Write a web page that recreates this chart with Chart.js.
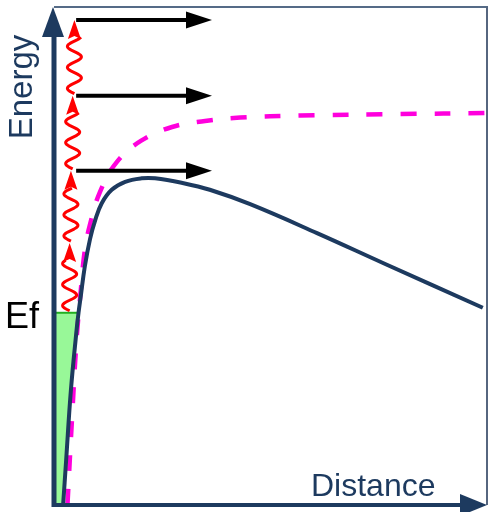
<!DOCTYPE html>
<html>
<head>
<meta charset="utf-8">
<title>Energy vs Distance</title>
<script src="https://cdn.jsdelivr.net/npm/chart.js@4.4.1/dist/chart.umd.min.js"></script>
<style>
  html, body { margin: 0; padding: 0; background: #fff; }
  canvas { display: block; }
</style>
</head>
<body>
<canvas id="myChart" width="490" height="512"></canvas>
<script>
// distance (nm) and energy (eV)
const barrierX = [0.21, 0.28, 0.39, 0.52, 0.565, 0.615, 0.71, 0.83, 0.95, 1.10, 1.33, 1.64, 2.02, 2.33, 2.94, 3.59, 4.52, 6.06, 7.58, 9.88];
const barrierY = [0.00, 0.90, 2.31, 3.51, 3.86, 4.18, 4.79, 5.34, 5.72, 6.06, 6.33, 6.49, 6.56, 6.56, 6.47, 6.33, 6.04, 5.46, 4.86, 3.96];

// image-force lowered barrier (dashed)
const imageX = [0.31, 0.41, 0.52, 0.62, 0.71, 0.82, 1.06, 1.45, 2.00, 2.72, 3.48, 4.29, 5.67, 7.97, 9.98];
const imageY = [0.00, 1.65, 3.31, 4.34, 5.12, 5.60, 6.29, 6.89, 7.31, 7.59, 7.71, 7.78, 7.82, 7.85, 7.87];

const fermiLevel = 3.86;
const fermiIndex = 4; // barrier point sitting on the Fermi level

// photons: x position, start and end energy
const photonX = [0.36, 0.39, 0.43, 0.47];
const photonFrom = [3.86, 5.26, 6.71, 8.22];
const photonTo = [5.26, 6.71, 8.22, 9.74];

// emitted electrons
const electronLevels = [6.71, 8.22, 9.74];
const electronFrom = 0.51;
const electronTo = 3.64;

const navy = '#1d3a5f';

const pts = (xs, ys) => xs.map((x, i) => ({ x: x, y: ys[i] }));

const fermiTop = [{ x: 0, y: fermiLevel }, { x: barrierX[fermiIndex], y: fermiLevel }];
const fermiBottom = [{ x: 0, y: 0 }].concat(pts(barrierX.slice(0, fermiIndex + 1), barrierY.slice(0, fermiIndex + 1)));

const sketchPlugin = {
    id: 'sketch',
    beforeDatasetsDraw(chart) {
        const { ctx, chartArea: a } = chart;
        ctx.save();
        // thin frame top / right
        ctx.strokeStyle = navy;
        ctx.lineWidth = 1.5;
        ctx.beginPath();
        ctx.moveTo(a.left, a.top);
        ctx.lineTo(a.right, a.top);
        ctx.stroke();
        ctx.strokeStyle = '#56667f';
        ctx.lineWidth = 2;
        ctx.beginPath();
        ctx.moveTo(a.right - 1, a.top);
        ctx.lineTo(a.right - 1, a.bottom);
        ctx.stroke();
        ctx.restore();
    },
    afterDatasetsDraw(chart) {
        const { ctx, chartArea: a, scales: { x, y } } = chart;
        ctx.save();

        // photons
        ctx.strokeStyle = '#ff0000';
        ctx.fillStyle = '#ff0000';
        ctx.lineWidth = 3;
        photonX.forEach((v, i) => {
            const px = x.getPixelForValue(v);
            const y0 = y.getPixelForValue(photonFrom[i]) - 2;
            const y1 = y.getPixelForValue(photonTo[i]);
            const head = 19;
            const len = y0 - (y1 + head - 2);
            ctx.beginPath();
            for (let t = 0; t <= len; t += 0.5) {
                const xx = px - 7 * Math.sin(2 * Math.PI * t / 21);
                if (t === 0) ctx.moveTo(xx, y0 - t); else ctx.lineTo(xx, y0 - t);
            }
            ctx.stroke();
            ctx.beginPath();
            ctx.moveTo(px, y1);
            ctx.lineTo(px + 6.5, y1 + head);
            ctx.lineTo(px, y1 + head - 3);
            ctx.lineTo(px - 6.5, y1 + head);
            ctx.closePath();
            ctx.fill();
        });

        // electrons leaving
        ctx.strokeStyle = '#000';
        ctx.fillStyle = '#000';
        ctx.lineWidth = 4;
        electronLevels.forEach((lv) => {
            const py = y.getPixelForValue(lv);
            const x0 = x.getPixelForValue(electronFrom);
            const x1 = x.getPixelForValue(electronTo);
            ctx.beginPath();
            ctx.moveTo(x0, py);
            ctx.lineTo(x1 - 22, py);
            ctx.stroke();
            ctx.beginPath();
            ctx.moveTo(x1, py);
            ctx.lineTo(x1 - 26, py - 8.5);
            ctx.lineTo(x1 - 26, py + 8.5);
            ctx.closePath();
            ctx.fill();
        });

        // axes with arrow heads
        ctx.strokeStyle = navy;
        ctx.fillStyle = navy;
        ctx.lineWidth = 5;
        ctx.beginPath();
        ctx.moveTo(a.left, a.bottom + 2);
        ctx.lineTo(a.left, a.top + 28);
        ctx.stroke();
        ctx.beginPath();
        ctx.moveTo(a.left - 1, a.top);
        ctx.lineTo(a.left + 10, a.top + 30);
        ctx.lineTo(a.left - 12, a.top + 30);
        ctx.closePath();
        ctx.fill();

        ctx.lineWidth = 4;
        ctx.beginPath();
        ctx.moveTo(a.left - 2, a.bottom);
        ctx.lineTo(a.right - 26, a.bottom);
        ctx.stroke();
        ctx.beginPath();
        ctx.moveTo(a.right - 1, a.bottom);
        ctx.lineTo(a.right - 28, a.bottom - 11);
        ctx.lineTo(a.right - 28, a.bottom + 11);
        ctx.closePath();
        ctx.fill();

        // labels
        ctx.font = '32px "Liberation Sans", Arial, sans-serif';
        ctx.textBaseline = 'alphabetic';
        ctx.textAlign = 'left';
        ctx.fillText('Distance', 311, a.bottom - 9);

        ctx.save();
        ctx.font = '33px "Liberation Sans", Arial, sans-serif';
        ctx.translate(32, 87);
        ctx.rotate(-Math.PI / 2);
        ctx.textAlign = 'center';
        ctx.fillText('Energy', 0, 0);
        ctx.restore();

        ctx.fillStyle = '#000';
        ctx.font = '36px "Liberation Sans", Arial, sans-serif';
        ctx.fillText('Ef', 5, y.getPixelForValue(fermiLevel) + 15);

        ctx.restore();
    }
};

const data = {
    datasets: [
        {
            label: 'Fermi sea',
            data: fermiTop,
            borderColor: '#22b022',
            borderWidth: 2,
            backgroundColor: '#98f898',
            fill: 1,
            pointRadius: 0,
            tension: 0,
            order: 3
        },
        {
            label: 'fermi bottom',
            data: fermiBottom,
            borderWidth: 0,
            borderColor: 'rgba(0,0,0,0)',
            fill: false,
            pointRadius: 0,
            tension: 0,
            order: 4
        },
        {
            label: 'Image force barrier',
            data: pts(imageX, imageY),
            borderColor: '#ff00dd',
            borderWidth: 4.5,
            borderDash: [16, 18],
            fill: false,
            pointRadius: 0,
            tension: 0.4,
            order: 1
        },
        {
            label: 'Barrier',
            data: pts(barrierX, barrierY),
            borderColor: navy,
            borderWidth: 4,
            fill: false,
            pointRadius: 0,
            tension: 0.4,
            order: 0
        }
    ]
};

const config = {
    type: 'line',
    data: data,
    options: {
        responsive: false,
        animation: false,
        layout: { padding: { left: 54, right: 2, top: 7, bottom: 7 } },
        plugins: {
            legend: { display: false },
            tooltip: { enabled: false }
        },
        scales: {
            x: { type: 'linear', min: 0, max: 10, display: false },
            y: { type: 'linear', min: 0, max: 10, display: false }
        }
    },
    plugins: [sketchPlugin]
};

const myChart = new Chart(document.getElementById('myChart'), config);
</script>
</body>
</html>
